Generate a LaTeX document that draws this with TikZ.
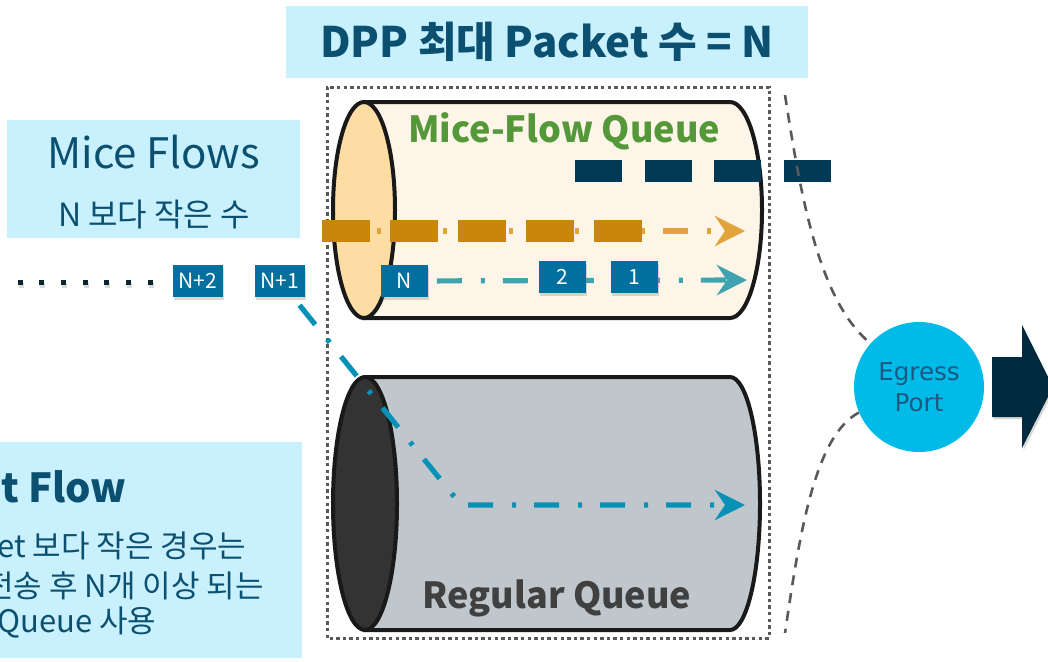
\documentclass[tikz,border=0pt]{standalone}
\usepackage{fontspec}
\setmainfont{Noto Sans CJK KR}
\newfontfamily\egfont{DejaVu Sans}
\usetikzlibrary{positioning,arrows.meta,shadows}

\definecolor{boxcyan}{HTML}{C8F1FD}
\definecolor{txtblue}{HTML}{0B5070}
\definecolor{pktblue}{HTML}{02709F}
\definecolor{navy}{HTML}{023A55}
\definecolor{dotnavy}{HTML}{0B2533}
\definecolor{ochre}{HTML}{C8860B}
\definecolor{ochrelt}{HTML}{E0A43A}
\definecolor{tealA}{HTML}{40A3B0}
\definecolor{tealB}{HTML}{0891B6}
\definecolor{micegreen}{HTML}{55983A}
\definecolor{cream}{HTML}{FDF5E7}
\definecolor{creamface}{HTML}{FDDDA3}
\definecolor{reggray}{HTML}{BFC7CD}
\definecolor{regface}{HTML}{333333}
\definecolor{egcyan}{HTML}{00BBE8}
\definecolor{egtext}{HTML}{1A5A82}
\definecolor{outnavy}{HTML}{022A3E}

\begin{document}
\begin{tikzpicture}[x=0.5pt,y=0.5pt,
    pkt/.style={fill=pktblue,text=white,font=\fontsize{10.5}{12}\selectfont,
      minimum width=23.5pt,minimum height=16pt,inner xsep=3pt,inner ysep=0pt,
      drop shadow={shadow xshift=0.6pt,shadow yshift=-1.6pt,opacity=.3}},
    flowline/.style={line width=2.6pt,dash pattern=on 12.5pt off 9.5pt on 2pt off 9pt},
    tip/.style={-{Stealth[length=15pt,width=15pt,inset=5pt]}},
    tubeline/.style={line width=2pt,draw=black!90},
    sidetxt/.style={text=txtblue,inner sep=0pt,anchor=base west},
    wire/.style={draw=black!65,line width=1.3pt,dash pattern=on 5pt off 4pt}]
  \useasboundingbox (0,0) rectangle (1048,661);
  \clip (0,0) rectangle (1048,661);

  % label boxes
  \fill[boxcyan] (286,583) rectangle (808,655);
  \fill[boxcyan] (7,423) rectangle (300,541);
  \fill[boxcyan] (0,3) rectangle (302,219);
  \node[text=txtblue,font=\bfseries\fontsize{21}{24}\selectfont] (ttl) at (547,619) {DPP 최대 Packet 수 = N};
  \node[text=txtblue,font=\fontsize{21}{24}\selectfont] (mice) at (154,509) {Mice Flows};
  \node[text=txtblue,font=\fontsize{16}{18}\selectfont] (micesub) at (154,446) {N 보다 작은 수};
  \node[sidetxt,font=\bfseries\fontsize{20}{24}\selectfont] (bigf) at (1,159) {t Flow};
  \node[sidetxt,font=\fontsize{15.5}{18}\selectfont] (rule1) at (-3,104) {et 보다 작은 경우는};
  \node[sidetxt,font=\fontsize{15.5}{18}\selectfont] (rule2) at (-15,64) {전송 후 N개 이상 되는};
  \node[sidetxt,font=\fontsize{15.5}{18}\selectfont] (rule3) at (-3,29) {Queue 사용};

  % dotted frame
  \draw[black!65,line width=1.5pt,dash pattern=on 1.7pt off 1.6pt] (327,23) rectangle (769,574);

  % queues
  \filldraw[tubeline,fill=cream] (364,559) -- (730,559)
    arc[start angle=90,end angle=-90,x radius=32,y radius=108] -- (364,343) -- cycle;
  \filldraw[tubeline,fill=creamface] (364,451) ellipse [x radius=31,y radius=108];
  \node[text=micegreen,font=\bfseries\fontsize{18}{22}\selectfont,anchor=base] (miceq) at (564,519) {Mice-Flow Queue};

  \filldraw[tubeline,fill=reggray] (365,284) -- (730,284)
    arc[start angle=90,end angle=-90,x radius=30,y radius=126.5] -- (365,31) -- cycle;
  \filldraw[tubeline,fill=regface] (365,157.5) ellipse [x radius=32,y radius=126.5];
  \node[text=black!75,font=\bfseries\fontsize{18}{22}\selectfont,anchor=base] (regq) at (557,53) {Regular Queue};

  % flows
  \coordinate (ochA) at (322,430);
  \coordinate (ochB) at (643,430);
  \coordinate (ochC) at (333,430);
  \coordinate (tipO) at (745,430);
  \draw[ochrelt,flowline,tip] (ochC) -- (tipO);
  \draw[ochre,line width=11pt,dash pattern=on 24pt off 10pt] (ochA) -- (ochB);

  \coordinate (navA) at (575,490);
  \coordinate (navB) at (833,490);
  \draw[navy,line width=11pt,dash pattern=on 23.5pt off 11.25pt] (navA) -- (navB);

  % packets
  \foreach \i in {0,...,6}
    \fill[dotnavy,drop shadow={shadow xshift=0.5pt,shadow yshift=-1.5pt,opacity=.3}]
      ({17.5+21.7*\i},376.5) rectangle +(5,5);
  \node[pkt] (n2) at (198,380) {N+2};
  \node[pkt] (n1) at (280,380) {N+1};
  \node[pkt] (pN) at (404,380) {N};

  \coordinate (tipA) at (747,381);
  \draw[tealA,flowline,tip,shorten <=4.5pt] (pN) -- (tipA);
  \node[pkt] (p2) at (562,384) {2};
  \node[pkt] (p1) at (634,384) {1};

  \coordinate (bendB) at (461,156);
  \coordinate (tipB) at (745,156);
  \draw[tealB,flowline,tip,dash phase=28pt] (n1) -- (bendB) -- (tipB);

  % egress port
  \node[circle,fill=egcyan,minimum size=65pt,inner sep=0pt,text=egtext,align=center,
        font=\egfont\fontsize{12.3}{15.5}\selectfont] (eg) at (919,274) {Egress\\Port};
  \coordinate (qtop) at (785,566);
  \coordinate (qbot) at (785,28);
  \draw[wire] (qtop) .. controls (800,470) and (818,360) .. (eg.138);
  \draw[wire] (eg.203) .. controls (815,225) and (800,130) .. (qbot);
  \fill[outnavy,drop shadow={shadow xshift=0.8pt,shadow yshift=-1.2pt,opacity=.3}]
    (992,304) -- (1022,304) -- (1022,336) -- (1053,274) -- (1022,213) -- (1022,244) -- (992,244) -- cycle;
\end{tikzpicture}
\end{document}
